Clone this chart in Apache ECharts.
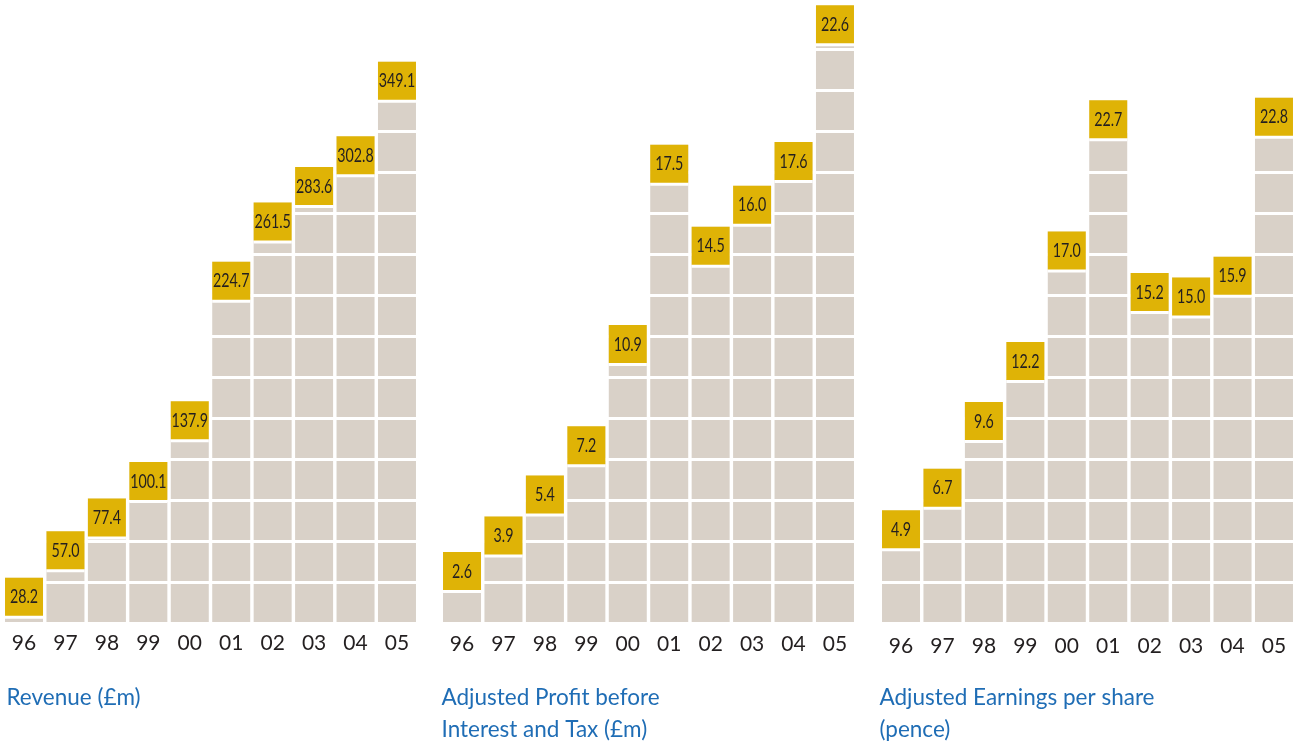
<!DOCTYPE html>
<html>
<head>
<meta charset="utf-8">
<script src="https://cdn.jsdelivr.net/npm/echarts@6/dist/echarts.min.js"></script>
<style>
html,body{margin:0;padding:0;background:#fff;}
#chart{width:1297px;height:742px;}
</style>
</head>
<body>
<div id="chart"></div>
<script>
const years = ['96','97','98','99','00','01','02','03','04','05'];
const revenue = [28.2, 57.0, 77.4, 100.1, 137.9, 224.7, 261.5, 283.6, 302.8, 349.1];
const pbit = [2.6, 3.9, 5.4, 7.2, 10.9, 17.5, 14.5, 16.0, 17.6, 22.6];
const eps = [4.9, 6.7, 9.6, 12.2, 17.0, 22.7, 15.2, 15.0, 15.9, 22.8];
const titles = ['Revenue (£m)', 'Adjusted Profit before\nInterest and Tax (£m)', 'Adjusted Earnings per share\n(pence)'];
const intervals = [25.5, 1.5, 1.78];

const YELLOW = '#dfb306';
const BEIGE = '#d9d1c8';
const BLUE = '#1f6db5';
const TEXT = '#231f20';

const datasets = [revenue, pbit, eps];
const lefts = [3.3, 441.3, 880.3];
const titleLefts = [6.5, 441.5, 879.5];
const labelMargins = [10, 11, 13];
const gridW = 414.4;
const gridBottomPx = 623;
const chart = echarts.init(document.getElementById('chart'));

function renderBox(params, api) {
  const v = api.value(1);
  const p = api.coord([api.value(0), v]);
  const w = 38;
  return {
    type: 'group',
    children: [
      {type: 'rect', shape: {x: p[0] - w / 2, y: p[1], width: w, height: 41}, style: {fill: '#fff'}},
      {type: 'rect', shape: {x: p[0] - w / 2, y: p[1], width: w, height: 38}, style: {fill: YELLOW}},
      {type: 'text', x: p[0], y: p[1] + 19.5, scaleX: 0.75, style: {
        text: v.toFixed(1), fill: TEXT, align: 'center', verticalAlign: 'middle',
        font: '19px Lato, sans-serif'
      }}
    ]
  };
}

const grid = [], xAxis = [], yAxis = [], series = [], title = [];
datasets.forEach((d, i) => {
  grid.push({left: lefts[i], width: gridW, top: 0, bottom: 742 - gridBottomPx});
  xAxis.push({
    type: 'category', gridIndex: i, data: years,
    axisLine: {show: false}, axisTick: {show: false},
    axisLabel: {color: TEXT, fontSize: 21, fontFamily: 'Lato', margin: labelMargins[i]}
  });
  yAxis.push({
    type: 'value', gridIndex: i, min: 0, max: gridBottomPx * intervals[i] / 41, interval: intervals[i],
    axisLine: {show: false}, axisTick: {show: false}, axisLabel: {show: false},
    splitLine: {show: true, lineStyle: {color: '#ffffff', width: 3}},
    z: 5
  });
  series.push({
    type: 'bar', xAxisIndex: i, yAxisIndex: i, data: d,
    barWidth: 38, itemStyle: {color: BEIGE}, z: 2, silent: true
  });
  series.push({
    type: 'custom', xAxisIndex: i, yAxisIndex: i,
    data: d.map((v, j) => [j, v]), encode: {x: 0, y: 1},
    renderItem: renderBox, z: 10, clip: false, silent: true
  });
  title.push({
    text: titles[i], left: titleLefts[i], top: 682, padding: 0,
    textStyle: {color: BLUE, fontSize: 22.5, fontWeight: 'normal', fontFamily: 'Lato', lineHeight: 32}
  });
});

chart.setOption({
  backgroundColor: '#fff',
  animation: false,
  title, grid, xAxis, yAxis, series
});
</script>
</body>
</html>
